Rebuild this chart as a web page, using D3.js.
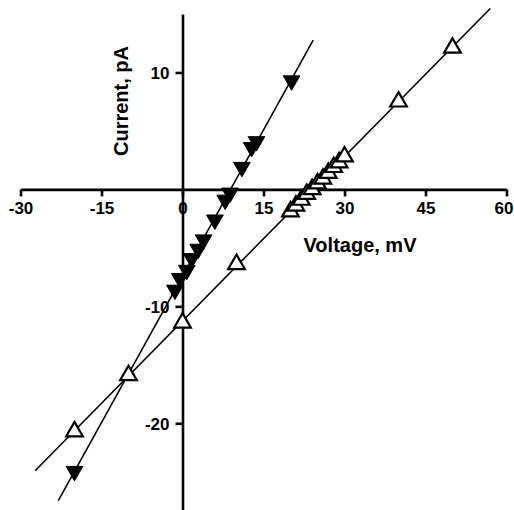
<!DOCTYPE html>
<html>
<head>
<meta charset="utf-8">
<script src="https://cdn.jsdelivr.net/npm/d3@7"></script>
<style>
  body { margin: 0; background: #fff; }
  text { font-family: "Liberation Sans", Arial, sans-serif; font-weight: bold; }
</style>
</head>
<body>
<svg width="514" height="510"></svg>
<script>
// filled (down triangles) series: voltage in mV, current in pA
var filledV = [-20, -1.4, -0.5, 0.8, 1.7, 2.9, 3.9, 6, 7.9, 8.8, 11, 12.8, 13.7, 20.2];
var filledI = [-24.1, -8.6, -7.6, -6.9, -5.9, -5.1, -4.3, -2.6, -0.9, -0.3, 1.9, 3.6, 4.1, 9.3];

// open (up triangles) series
var openV = [-20, -10, 0, 10, 20, 21, 22, 23, 24, 25, 26, 27, 28, 29, 30, 40, 50];
var openI = [-20.7, -15.9, -11.4, -6.4, -1.9, -1.4, -0.9, -0.4, 0.0, 0.5, 0.9, 1.4, 1.9, 2.3, 2.8, 7.5, 12.1];

// how far each fitted line is drawn (mV)
var filledFitRange = [-23, 24.2];
var openFitRange = [-27.3, 57];

var xTicks = [-30, -15, 0, 15, 30, 45, 60];
var yTicks = [-20, -10, 10];

var svg = d3.select("svg");

var x = d3.scaleLinear().domain([-30, 60]).range([20.5, 506.5]);
var y = d3.scaleLinear().domain([-27.5, 15]).range([511, 14]);

// least squares fit, returns function
function fit(xs, ys) {
    var mx = d3.mean(xs), my = d3.mean(ys);
    var sxy = d3.sum(xs, function(d, i){ return (d - mx) * (ys[i] - my); });
    var sxx = d3.sum(xs, function(d){ return (d - mx) * (d - mx); });
    var b = sxy / sxx, a = my - b * mx;
    return function(v){ return a + b * v; };
}

var line = d3.line()
    .x(function(d){ return x(d[0]); })
    .y(function(d){ return y(d[1]); });

function drawFit(xs, ys, range) {
    var f = fit(xs, ys);
    svg.append("path")
        .datum(range.map(function(v){ return [v, f(v)]; }))
        .attr("d", line)
        .attr("fill", "none")
        .attr("stroke", "#000")
        .attr("stroke-width", 1.6);
}
drawFit(filledV, filledI, filledFitRange);
drawFit(openV, openI, openFitRange);

// plain hyphen for negatives, like the original
var fmt = function(d){ return String(d); };

// x axis through y = 0
var xAxis = svg.append("g")
    .attr("transform", "translate(0," + y(0) + ")")
    .call(d3.axisBottom(x).tickValues(xTicks).tickSize(7).tickSizeOuter(0).tickPadding(6).tickFormat(fmt));

// y axis through x = 0
var yAxis = svg.append("g")
    .attr("transform", "translate(" + x(0) + ",0)")
    .call(d3.axisLeft(y).tickValues(yTicks).tickSize(7).tickSizeOuter(0).tickPadding(6).tickFormat(fmt));

[xAxis, yAxis].forEach(function(g){
    g.select(".domain").attr("stroke-width", 2.6);
    g.selectAll(".tick line").attr("stroke-width", 2.6);
    g.selectAll(".tick text")
        .attr("fill", "#000")
        .style("font-size", "17px")
        .style("font-family", "'Liberation Sans', Arial, sans-serif")
        .style("font-weight", "bold");
});
yAxis.selectAll(".tick text").attr("dy", "0.35em");
// keep the last label inside the page
xAxis.selectAll(".tick text").filter(function(d){ return d === 60; }).attr("dx", "-3");

// markers
var tri = d3.symbol().type(d3.symbolTriangle).size(120);

svg.append("g").selectAll("path")
    .data(openV.map(function(v, i){ return [v, openI[i]]; }))
    .enter().append("path")
    .attr("d", tri)
    .attr("transform", function(d){ return "translate(" + x(d[0]) + "," + y(d[1]) + ")"; })
    .attr("fill", "#fff")
    .attr("stroke", "#000")
    .attr("stroke-width", 2.2);

svg.append("g").selectAll("path")
    .data(filledV.map(function(v, i){ return [v, filledI[i]]; }))
    .enter().append("path")
    .attr("d", tri)
    .attr("transform", function(d){ return "translate(" + x(d[0]) + "," + y(d[1]) + ") rotate(180)"; })
    .attr("fill", "#000")
    .attr("stroke", "#000")
    .attr("stroke-width", 1);

// axis titles
svg.append("text")
    .attr("transform", "translate(" + 128 + "," + 101 + ") rotate(-90)")
    .attr("text-anchor", "middle")
    .style("font-size", "20px")
    .text("Current, pA");

svg.append("text")
    .attr("x", 360)
    .attr("y", 252)
    .attr("text-anchor", "middle")
    .style("font-size", "20px")
    .text("Voltage, mV");
</script>
</body>
</html>
